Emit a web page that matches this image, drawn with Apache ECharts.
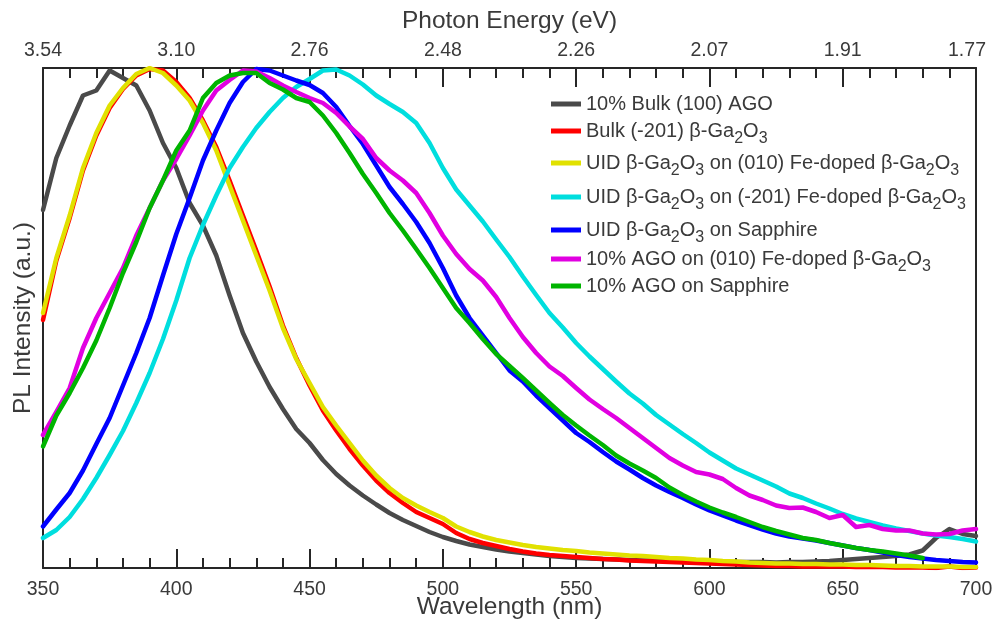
<!DOCTYPE html>
<html>
<head>
<meta charset="utf-8">
<script src="https://cdn.jsdelivr.net/npm/echarts@6/dist/echarts.min.js"></script>
<style>
html,body{margin:0;padding:0;background:#ffffff;}
#chart{width:992px;height:629px;}
</style>
</head>
<body>
<div id="chart"></div>
<script>
// ---------- data ----------
const wavelengths = [
  350,355,360,365,370,375,380,385,390,395,
  400,405,410,415,420,425,430,435,440,445,
  450,455,460,465,470,475,480,485,490,495,
  500,505,510,515,520,525,530,535,540,545,
  550,555,560,565,570,575,580,585,590,595,
  600,605,610,615,620,625,630,635,640,645,
  650,655,660,665,670,675,680,685,690,695,
  700
];

const energyTickLabels = ['3.54','3.10','2.76','2.48','2.26','2.07','1.91','1.77'];

const seriesNames = [
  '10% Bulk (100) AGO',
  'Bulk (-201) β-Ga2O3',
  'UID β-Ga2O3 on (010) Fe-doped β-Ga2O3',
  'UID β-Ga2O3 on (-201) Fe-doped β-Ga2O3',
  'UID β-Ga2O3 on Sapphire',
  '10% AGO on (010) Fe-doped β-Ga2O3',
  '10% AGO on Sapphire'
];

const grayBulkAGO = [
  .716,.82,.885,.945,.955,.995,.98,.965,.915,.85,
  .80,.73,.685,.625,.545,.47,.413,.362,.318,.278,
  .25,.216,.188,.165,.145,.127,.11,.096,.084,.072,
  .062,.054,.047,.042,.037,.033,.03,.027,.024,.022,
  .02,.019,.018,.017,.016,.015,.015,.014,.014,.013,
  .013,.012,.012,.012,.012,.011,.012,.012,.013,.014,
  .016,.018,.02,.022,.024,.027,.035,.06,.078,.068,
  .064
];
const redBulkGaO = [
  .496,.615,.70,.795,.865,.92,.958,.985,.998,.995,
  .972,.94,.895,.842,.775,.705,.635,.563,.485,.42,
  .365,.315,.275,.238,.205,.175,.15,.13,.112,.10,
  .088,.07,.058,.05,.044,.038,.033,.029,.026,.024,
  .022,.02,.018,.017,.015,.014,.013,.012,.011,.01,
  .009,.008,.007,.006,.005,.004,.004,.003,.003,.003,
  .003,.002,.002,.002,.001,.001,.001,0,.003,0,
  .001
];
const yellowUID010 = [
  .51,.62,.705,.80,.87,.925,.96,.988,1.0,.99,
  .965,.935,.89,.835,.765,.695,.625,.555,.48,.418,
  .37,.322,.285,.25,.215,.185,.16,.14,.125,.112,
  .10,.083,.072,.063,.056,.051,.046,.042,.039,.036,
  .034,.031,.029,.027,.025,.024,.022,.02,.019,.017,
  .016,.014,.013,.011,.01,.009,.009,.008,.008,.007,
  .007,.006,.006,.005,.004,.004,.003,.003,.003,.002,
  .002
];
const cyanUID201 = [
  .06,.076,.102,.138,.18,.226,.274,.33,.39,.458,
  .535,.62,.686,.745,.80,.842,.88,.912,.94,.962,
  .978,.995,.997,.985,.967,.945,.928,.912,.89,.85,
  .80,.757,.725,.693,.657,.622,.583,.546,.51,.481,
  .45,.423,.398,.373,.349,.329,.306,.287,.268,.25,
  .231,.215,.199,.187,.175,.163,.149,.14,.129,.119,
  .108,.099,.092,.085,.079,.074,.069,.065,.062,.058,
  .053
];
const blueUIDSapphire = [
  .083,.117,.15,.195,.248,.30,.365,.43,.50,.585,
  .668,.74,.815,.875,.93,.972,.998,.995,.985,.975,
  .966,.95,.922,.884,.848,.805,.762,.728,.692,.65,
  .60,.545,.50,.465,.43,.395,.373,.345,.32,.295,
  .27,.252,.232,.213,.197,.18,.165,.152,.14,.127,
  .115,.105,.095,.086,.077,.069,.063,.059,.055,.05,
  .045,.04,.036,.031,.026,.022,.019,.016,.014,.012,
  .011
];
const magentaAGO010 = [
  .266,.312,.36,.44,.50,.55,.60,.665,.72,.775,
  .818,.865,.915,.955,.976,.995,.993,.98,.965,.952,
  .94,.93,.91,.883,.858,.82,.795,.775,.75,.71,
  .665,.628,.598,.575,.542,.50,.462,.43,.403,.384,
  .36,.337,.318,.30,.28,.26,.24,.22,.205,.192,
  .187,.178,.16,.145,.136,.125,.12,.121,.112,.10,
  .106,.082,.086,.078,.075,.075,.069,.067,.068,.075,
  .078
];
const greenAGOSapphire = [
  .243,.305,.35,.40,.455,.52,.59,.652,.72,.775,
  .835,.875,.94,.97,.985,.99,.99,.97,.957,.94,
  .932,.905,.87,.83,.788,.75,.71,.675,.638,.60,
  .56,.52,.49,.458,.428,.404,.38,.355,.33,.306,
  .285,.265,.246,.225,.209,.195,.18,.161,.146,.133,
  .121,.111,.102,.092,.082,.074,.067,.06,.056,.05,
  .045,.04,.036,.033,.029,.025,.02,null,null,null,
  null
];

const seriesValues = [grayBulkAGO, redBulkGaO, yellowUID010, cyanUID201, blueUIDSapphire, magentaAGO010, greenAGOSapphire];
const seriesColors = ['#4a4a4a','#ff0000','#e1e100','#00dede','#0000ff','#e100e1','#00b400'];
const legendTops = [94, 121, 153, 187, 220, 249, 276];

// ---------- chart ----------
const FONT = '"Liberation Sans", Arial, Helvetica, sans-serif';
const AXIS_COLOR = '#262626';
const TEXT_COLOR = '#3a3a3a';

function toRich(name) {
  return name.split('Ga2O3').map(p => p ? '{t|' + p + '}' : '').join('{t|Ga}{s|2}{t|O}{s|3}');
}
function pairs(vals) {
  return wavelengths.map((w, i) => [w, vals[i]]);
}
function makeX(position, extra) {
  return Object.assign({
    type: 'value', position: position, min: 350, max: 700, interval: 50,
    axisLine: { show: true, onZero: false, lineStyle: { color: AXIS_COLOR, width: 2 } },
    axisTick: { show: true, inside: true, interval: 0, length: 19, lineStyle: { color: AXIS_COLOR, width: 2 } },
    minorTick: { show: true, splitNumber: 5, length: 10, lineStyle: { color: AXIS_COLOR, width: 2 } },
    splitLine: { show: false }, minorSplitLine: { show: false },
    nameLocation: 'middle', nameMoveOverlap: false,
    nameTextStyle: { fontSize: 24.5, color: TEXT_COLOR, fontFamily: FONT }
  }, extra);
}

const chart = echarts.init(document.getElementById('chart'), null, { renderer: 'canvas' });
chart.setOption({
  animation: false,
  backgroundColor: '#ffffff',
  grid: { left: 43, right: 16, top: 68, bottom: 61, containLabel: false, outerBoundsMode: 'none' },
  xAxis: [
    makeX('bottom', {
      name: 'Wavelength (nm)', nameGap: 27,
      axisLabel: { margin: 12, fontSize: 19.5, color: TEXT_COLOR, fontFamily: FONT }
    }),
    makeX('top', {
      name: 'Photon Energy (eV)', nameGap: 34,
      axisLabel: {
        margin: 7, fontSize: 19.5, color: TEXT_COLOR, fontFamily: FONT,
        formatter: v => {
          const i = Math.round((v - 350) / 50);
          return i === energyTickLabels.length - 1 ? '{r|' + energyTickLabels[i] + '}' : energyTickLabels[i];
        },
        rich: { r: { fontSize: 19.5, color: TEXT_COLOR, fontFamily: FONT, padding: [0, 18, 0, 0] } }
      }
    })
  ],
  yAxis: [
    {
      type: 'value', min: 0, max: 1, position: 'left',
      axisLine: { show: true, onZero: false, lineStyle: { color: AXIS_COLOR, width: 2 } },
      axisTick: { show: false }, axisLabel: { show: false }, splitLine: { show: false },
      name: 'PL Intensity (a.u.)', nameLocation: 'middle', nameGap: 7, nameRotate: 90,
      nameMoveOverlap: false,
      nameTextStyle: { fontSize: 24.5, color: TEXT_COLOR, fontFamily: FONT }
    },
    {
      type: 'value', min: 0, max: 1, position: 'right',
      axisLine: { show: true, onZero: false, lineStyle: { color: AXIS_COLOR, width: 2 } },
      axisTick: { show: false }, axisLabel: { show: false }, splitLine: { show: false }
    }
  ],
  legend: seriesNames.map((name, i) => ({
    orient: 'vertical', left: 551, top: legendTops[i], padding: 0,
    itemWidth: 30, itemHeight: 5, icon: 'rect', selectedMode: false,
    data: [name],
    formatter: n => toRich(n),
    textStyle: {
      color: TEXT_COLOR, fontFamily: FONT, fontSize: 20,
      rich: {
        t: { fontSize: 20, lineHeight: 20, verticalAlign: 'top', color: TEXT_COLOR, fontFamily: FONT },
        s: { fontSize: 16, lineHeight: 16, padding: [10, 0, 0, 0], verticalAlign: 'top', color: TEXT_COLOR, fontFamily: FONT }
      }
    }
  })),
  series: seriesNames.map((name, i) => ({
    name: name,
    type: 'line',
    xAxisIndex: 0, yAxisIndex: 0,
    data: pairs(seriesValues[i]),
    showSymbol: false,
    symbol: 'none',
    color: seriesColors[i],
    lineStyle: { color: seriesColors[i], width: 4.5, join: 'round', cap: 'round' },
    itemStyle: { color: seriesColors[i] },
    connectNulls: false,
    emphasis: { disabled: true }
  }))
});
</script>
</body>
</html>
